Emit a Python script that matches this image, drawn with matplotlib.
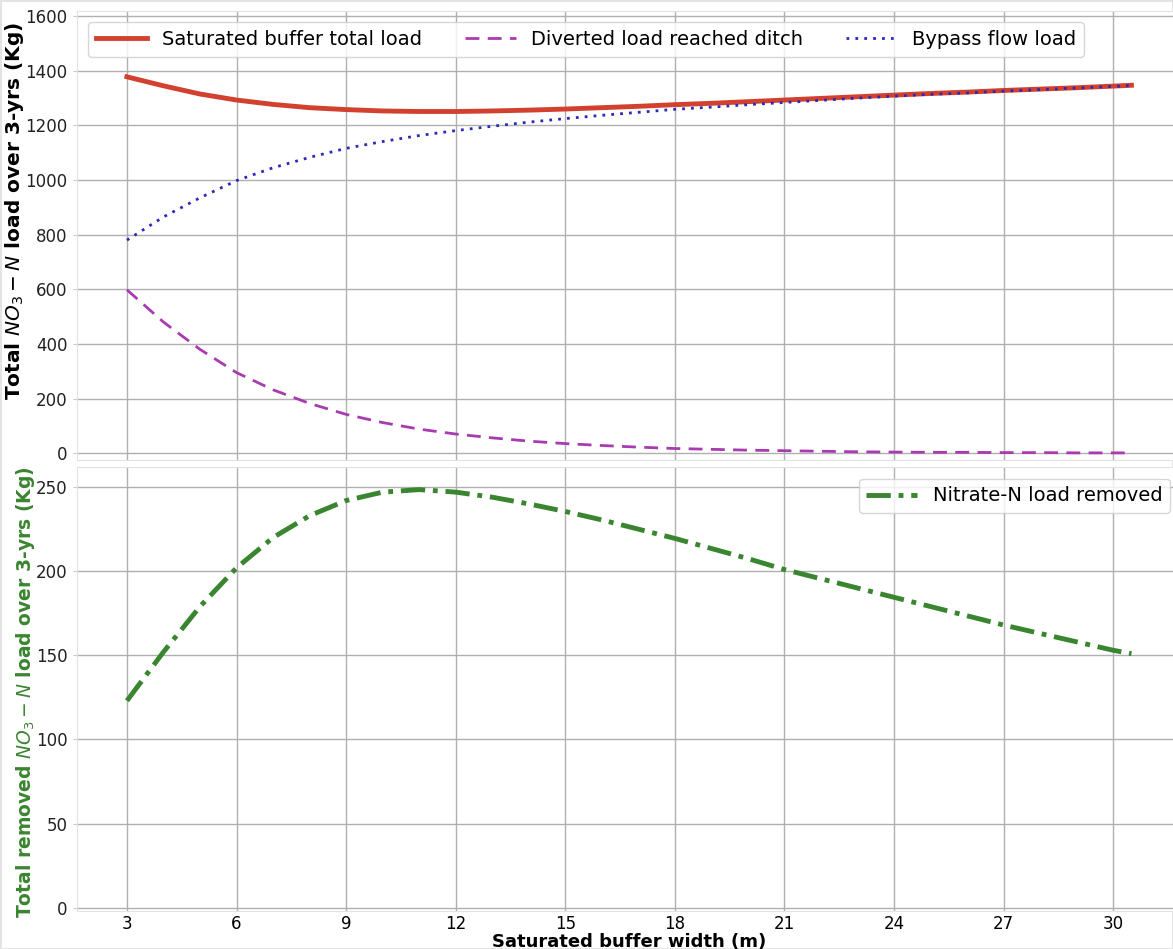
import matplotlib
matplotlib.use("Agg")
import matplotlib.pyplot as plt

# buffer widths (m)
width = [3, 4, 5, 6, 7, 8, 9, 10, 11, 12, 13, 14, 15, 16, 17, 18, 19, 20,
         21, 22, 23, 24, 25, 26, 27, 28, 29, 30, 30.5]

# top panel: loads over 3 years (Kg)
total_load = [1378, 1345, 1315, 1293, 1277, 1265, 1258, 1253, 1251, 1251,
              1253, 1256, 1260, 1265, 1270, 1276, 1281, 1287, 1293, 1299,
              1305, 1311, 1317, 1322, 1328, 1333, 1338, 1344, 1347]
diverted_load = [598, 480, 380, 295, 232, 182, 142, 112, 88, 70, 56, 44, 35,
                 28, 22, 17, 14, 11, 9, 7, 5, 4, 3, 3, 2, 2, 1, 1, 1]
bypass_load = [780, 865, 935, 998, 1045, 1083, 1116, 1141, 1163, 1181, 1197,
               1212, 1225, 1237, 1248, 1259, 1267, 1276, 1284, 1292, 1300,
               1307, 1314, 1319, 1326, 1331, 1337, 1343, 1346]

# bottom panel: removed load (Kg)
removed_load = [123, 152, 179, 202, 220, 233, 242, 247, 248.5, 247, 244, 240,
                235.5, 230.5, 225, 219.5, 213.5, 207.5, 201, 195.5, 190, 184.5,
                179, 173.5, 168, 163, 158, 153, 151]

xticks = [3, 6, 9, 12, 15, 18, 21, 24, 27, 30]

red = "#d2412f"
purple = "#a83bb0"
blue = "#2a2ab8"
green = "#3a8530"
grid_c = "#b0b0b0"

fig = plt.figure(figsize=(11.73, 9.49), dpi=100)
fig.patch.set_edgecolor("#e4e4e4")
fig.patch.set_linewidth(2)

ax1 = fig.add_axes([0.0654, 0.5153, 0.942, 0.4734])
ax2 = fig.add_axes([0.0654, 0.040, 0.942, 0.468], sharex=ax1)

ax1.plot(width, total_load, color=red, lw=3.5, label="Saturated buffer total load")
ax1.plot(width, diverted_load, color=purple, lw=2, ls=(0, (5, 3)),
         label="Diverted load reached ditch")
ax1.plot(width, bypass_load, color=blue, lw=2, ls=(0, (1, 2.2)),
         label="Bypass flow load")
ax1.set_ylim(-25, 1620)
ax1.set_yticks(range(0, 1601, 200))
ax1.set_ylabel("Total $NO_3-N$ load over 3-yrs (Kg)", fontsize=14.5,
               fontweight="bold")
ax1.yaxis.set_label_coords(-0.046, 0.555)
ax1.legend(loc="upper left", ncol=3, fontsize=14, handlelength=2.6,
           columnspacing=2.2, borderaxespad=0.6)
ax1.tick_params(axis="x", labelbottom=False, length=0)

ax2.plot(width, removed_load, color=green, lw=3.5, ls=(0, (5, 1.6, 1, 1.6)),
         label="Nitrate-N load removed")
ax2.set_ylim(-2, 262)
ax2.set_yticks(range(0, 251, 50))
ax2.set_xlim(1.625, 31.875)
ax2.set_xticks(xticks)
ax2.set_ylabel("Total removed $NO_3-N$ load over 3-yrs (Kg)", fontsize=13.5,
               fontweight="bold", color=green)
ax2.yaxis.set_label_coords(-0.0355, 0.494)
ax2.set_xlabel("Saturated buffer width (m)", fontsize=13, fontweight="bold",
               labelpad=0)
ax2.legend(loc="upper right", fontsize=14, handlelength=2.6, borderaxespad=0.6)
ax2.tick_params(axis="x", length=0, labelsize=12, pad=3)

for ax in (ax1, ax2):
    ax.grid(True, color=grid_c, lw=1)
    ax.set_axisbelow(True)
    ax.tick_params(axis="y", labelsize=12, length=3, color="#cccccc",
                   labelcolor="#222222")
    for sp in ax.spines.values():
        sp.set_color("#e2e2e2")

plt.savefig("out.png", dpi=100)
